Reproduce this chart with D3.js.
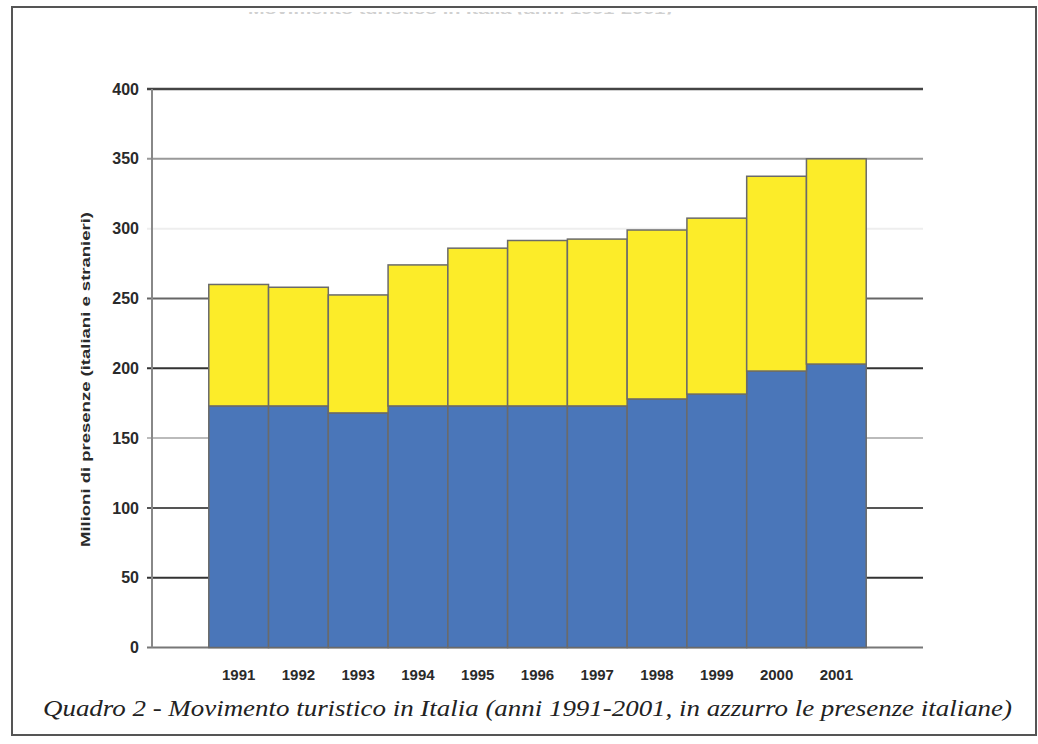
<!DOCTYPE html>
<html>
<head>
<meta charset="utf-8">
<script src="https://cdn.jsdelivr.net/npm/d3@7"></script>
<style>
  html, body { margin: 0; padding: 0; background: #fff; }
  svg { display: block; }
  .cap { font-family: 'Times New Roman', 'Liberation Serif', Tinos, Times, serif; font-style: italic; }
</style>
</head>
<body>
<svg id="chart" width="1038" height="744"></svg>
<script>
// ---- data ----
const years = ["1991","1992","1993","1994","1995","1996","1997","1998","1999","2000","2001"];
const italiani = [173, 173, 168, 173, 173, 173, 173, 178, 181.5, 198, 203];
const stranieri = [87, 85, 84.5, 101, 113, 118.5, 119.5, 121, 126, 139.5, 147];
const yTicks = [0, 50, 100, 150, 200, 250, 300, 350, 400];
const yTitle = "Milioni di presenze (italiani e stranieri)";
const caption = "Quadro 2 - Movimento turistico in Italia (anni 1991-2001, in azzurro le presenze italiane)";
const topTitle = "Movimento turistico in Italia (anni 1991-2001)";

// ---- drawing ----
const svg = d3.select("#chart");
const plot = { left: 152, right: 923, top: 89, bottom: 647.5 };

const x = d3.scaleBand().domain(years).range([plot.left, plot.right]).paddingInner(0).paddingOuter(0.95);
const y = d3.scaleLinear().domain([0, 400]).range([plot.bottom, plot.top]);

// frame
svg.append("rect").attr("x", 12).attr("y", 7).attr("width", 1024).attr("height", 728)
  .attr("fill", "none").attr("stroke", "#555").attr("stroke-width", 2);

// clipped top title (cut off in the original)
svg.append("clipPath").attr("id", "topclip").append("rect")
  .attr("x", 0).attr("y", 12).attr("width", 1038).attr("height", 2.5);
svg.append("text").attr("clip-path", "url(#topclip)")
  .attr("x", 248).attr("y", 14).attr("textLength", 424).attr("lengthAdjust", "spacingAndGlyphs")
  .attr("font-family", "'Liberation Sans', Arial, sans-serif").attr("font-weight", "bold")
  .attr("font-size", 13).attr("fill", "#d0d0d0").text(topTitle);

// gridlines
const gridColors = {0: "#777", 50: "#333", 100: "#555", 150: "#bbb", 200: "#333", 250: "#666", 300: "#eee", 350: "#999", 400: "#444"};
svg.append("g").selectAll("line").data(yTicks).join("line")
  .attr("x1", 147).attr("x2", plot.right)
  .attr("y1", d => y(d)).attr("y2", d => y(d))
  .attr("stroke", d => gridColors[d]).attr("stroke-width", d => d === 400 ? 2.5 : 2);

// y axis line
svg.append("line").attr("x1", plot.left).attr("x2", plot.left)
  .attr("y1", plot.top).attr("y2", plot.bottom)
  .attr("stroke", "#888").attr("stroke-width", 2);

// y axis labels via d3 axis
const yAxis = d3.axisLeft(y).tickValues(yTicks).tickSize(0).tickPadding(0).tickFormat(d3.format("d"));
const gy = svg.append("g").attr("transform", "translate(139,0)").call(yAxis);
gy.select(".domain").remove();
gy.selectAll("text").attr("font-family", "'Liberation Sans', Arial, sans-serif")
  .attr("font-size", 16).attr("fill", "#2a2a2a").attr("font-weight", "bold");

// stacked bars
const rows = years.map((yr, i) => ({ year: yr, it: italiani[i], st: stranieri[i] }));
const stack = d3.stack().keys(["it", "st"])(rows);
const colors = { it: "#4a76b9", st: "#fcec29" };
svg.append("g").selectAll("g").data(stack).join("g")
  .attr("fill", d => colors[d.key])
  .selectAll("rect").data(d => d).join("rect")
  .attr("x", d => x(d.data.year))
  .attr("width", x.bandwidth())
  .attr("y", d => y(d[1]))
  .attr("height", d => y(d[0]) - y(d[1]))
  .attr("stroke", "#6a6a6a").attr("stroke-width", 1.5);

// x labels
const xAxis = d3.axisBottom(x).tickSize(0).tickPadding(0);
const gx = svg.append("g").attr("transform", "translate(0,669)").call(xAxis);
gx.select(".domain").remove();
gx.selectAll("text").attr("font-family", "'Liberation Sans Narrow', 'Liberation Sans', Arial, sans-serif")
  .attr("font-size", 15).attr("font-weight", "bold").attr("fill", "#2a2a2a");

// y axis title
svg.append("text")
  .attr("transform", "translate(90,379.5) rotate(-90)")
  .attr("text-anchor", "middle")
  .attr("textLength", 335).attr("lengthAdjust", "spacingAndGlyphs")
  .attr("font-family", "'Liberation Sans', Arial, sans-serif").attr("font-weight", "bold")
  .attr("font-size", 13).attr("fill", "#2a2a2a").text(yTitle);

// caption
svg.append("text").attr("class", "cap")
  .attr("x", 43).attr("y", 716)
  .attr("textLength", 969).attr("lengthAdjust", "spacingAndGlyphs")
  .attr("font-size", 24).attr("fill", "#222").text(caption);
</script>
</body>
</html>
